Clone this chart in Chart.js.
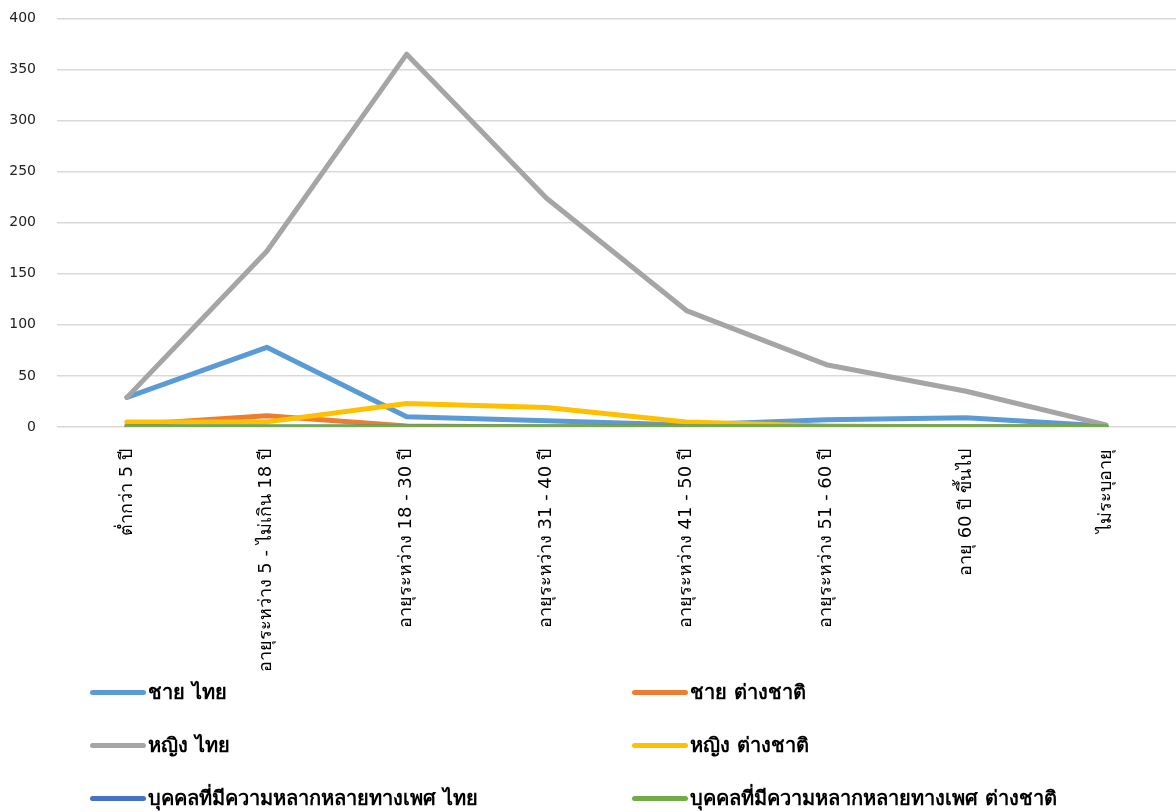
<!DOCTYPE html>
<html>
<head>
<meta charset="utf-8">
<script src="https://cdn.jsdelivr.net/npm/chart.js@4.4.1/dist/chart.umd.min.js"></script>
<style>
  body { margin:0; background:#fff; font-family: Tahoma, "DejaVu Sans", sans-serif; overflow:hidden; }
  #wrap { position:relative; width:1176px; height:812px; overflow:hidden; }
  #box { position:absolute; left:0; top:-11px; width:1176px; height:691px; }
  #legend { position:absolute; left:90px; top:672px; width:1086px; display:grid;
            grid-template-columns: 542px 544px; grid-auto-rows:53px; }
  .item { display:flex; align-items:center; font-weight:bold; font-size:20px; color:#000; height:40px; }
  .swatch { width:56px; height:5px; border-radius:3px; margin-right:2px; }
</style>
</head>
<body>
<div id="wrap">
  <div id="box"><canvas id="chart"></canvas></div>
  <div id="legend"></div>
</div>
<script>
const categories = ["ต่ำกว่า 5 ปี","อายุระหว่าง 5 - ไม่เกิน 18 ปี","อายุระหว่าง 18 - 30 ปี","อายุระหว่าง 31 - 40 ปี","อายุระหว่าง 41 - 50 ปี","อายุระหว่าง 51 - 60 ปี","อายุ 60 ปี ขึ้นไป","ไม่ระบุอายุ"];

const seriesNames = ["ชาย ไทย","ชาย ต่างชาติ","หญิง ไทย","หญิง ต่างชาติ","บุคคลที่มีความหลากหลายทางเพศ ไทย","บุคคลที่มีความหลากหลายทางเพศ ต่างชาติ"];
const maleThai = [29, 78, 10, 6, 2, 7, 9, 1];
const maleForeign = [2, 11, 1, 0, 0, 0, 0, 0];
const femaleThai = [29, 172, 365, 224, 114, 61, 35, 2];
const femaleForeign = [5, 5, 23, 19, 5, 1, 0, 0];
const lgbtThai = [0, 0, 0, 0, 0, 0, 0, 0];
const lgbtForeign = [0, 0, 0, 0, 0, 0, 0, 0];
const colors = ["#5B9BD5","#ED7D31","#A5A5A5","#FFC000","#4472C4","#70AD47"];
const yTicks = [0, 50, 100, 150, 200, 250, 300, 350, 400];

const allValues = [maleThai, maleForeign, femaleThai, femaleForeign, lgbtThai, lgbtForeign];

const ctx = document.querySelector("#chart").getContext("2d");

new Chart(ctx, {
    type: 'line',
    data: {
        labels: categories,
        datasets: allValues.map((vals, i) => ({
            label: seriesNames[i],
            data: vals,
            borderColor: colors[i],
            backgroundColor: colors[i],
            borderWidth: 5,
            pointRadius: 0,
            borderCapStyle: 'round',
            borderJoinStyle: 'round',
            tension: 0,
            order: 5 - i
        }))
    },
    options: {
        responsive: true,
        maintainAspectRatio: false,
        animation: false,
        layout: { padding: { left: 10, top: 7, right: 0, bottom: 0 } },
        plugins: { legend: { display: false }, tooltip: { enabled: false } },
        scales: {
            x: {
                offset: true,
                grid: { display: false },
                border: { display: false },
                afterFit: (axis) => { axis.height = 253; },
                ticks: { minRotation: 90, maxRotation: 90, color: '#000', padding: 14,
                         font: { size: 18, family: 'Tahoma, "DejaVu Sans", sans-serif' } }
            },
            y: {
                min: 0, max: 400,
                afterBuildTicks: (axis) => { axis.ticks = yTicks.map(v => ({ value: v })); },
                afterFit: (axis) => { axis.width = 47; },
                grid: { color: '#D9D9D9', lineWidth: 1.5, drawTicks: false },
                border: { display: false },
                ticks: { color: '#222', padding: 21,
                         font: { size: 14, family: 'Tahoma, "DejaVu Sans", sans-serif' } }
            }
        }
    }
});

// legend in two columns, like the original
const legend = document.querySelector("#legend");
seriesNames.forEach((name, i) => {
    const item = document.createElement("div");
    item.className = "item";
    item.innerHTML = '<span class="swatch" style="background:' + colors[i] + '"></span><span>' + name + '</span>';
    legend.appendChild(item);
});
</script>
</body>
</html>
